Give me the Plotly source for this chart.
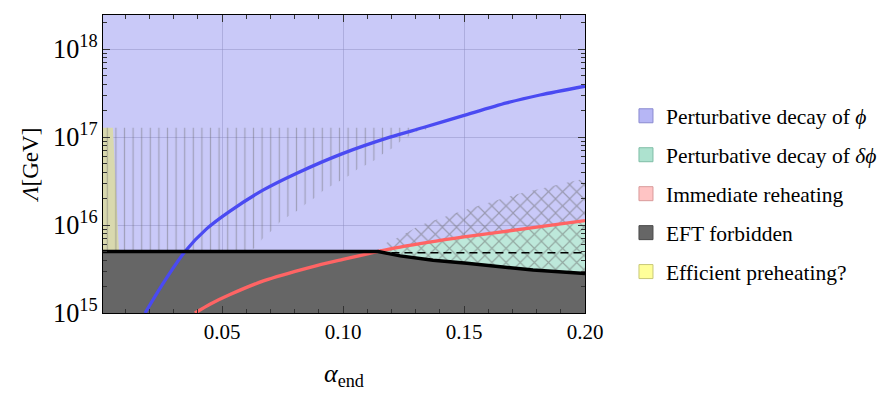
import plotly.graph_objects as go

# alpha_end values and log10(Lambda / GeV)
blue_alpha = [0.0182, 0.0257, 0.0347, 0.0437, 0.0533, 0.0671, 0.0809, 0.0995, 0.1194, 0.1332, 0.1497, 0.1676, 0.1814, 0.2]
blue_log = [15.0, 15.34, 15.70, 15.96, 16.16, 16.40, 16.59, 16.81, 17.00, 17.11, 17.245, 17.39, 17.48, 17.58]

red_alpha = [0.0388, 0.045, 0.0533, 0.0671, 0.0864, 0.10, 0.1145, 0.1236, 0.15, 0.177, 0.2]
red_log = [15.0, 15.10, 15.21, 15.365, 15.52, 15.61, 15.70, 15.75, 15.865, 15.965, 16.05]

eft_alpha = [0.0008, 0.1145, 0.1236, 0.1372, 0.1512, 0.1649, 0.1785, 0.2]
eft_log = [15.70, 15.70, 15.65, 15.60, 15.565, 15.53, 15.49, 15.45]

hatch_v_alpha = [0.0008, 0.060, 0.0636, 0.0669, 0.0707, 0.0744, 0.0814, 0.0851, 0.0888, 0.0921,
                 0.0992, 0.1029, 0.1062, 0.1099, 0.1132, 0.1169, 0.1207, 0.124, 0.1277, 0.131, 0.138]
hatch_v_log = [15.70, 15.70, 15.74, 15.85, 15.94, 16.05, 16.17, 16.25, 16.32, 16.40,
               16.51, 16.57, 16.64, 16.69, 16.74, 16.82, 16.88, 16.96, 17.02, 17.07, 17.106]
hatch_v_top = 17.106

hatch_x_alpha = [0.1145, 0.118, 0.1236, 0.132, 0.15, 0.173, 0.2]
hatch_x_log = [15.70, 15.80, 15.87, 16.00, 16.17, 16.36, 16.53]

yellow_alpha = [0.0008, 0.0008, 0.0049, 0.0074]
yellow_log = [15.70, 17.106, 17.106, 15.70]

dash_alpha = [0.12, 0.2]
dash_log = [15.685, 15.685]

x_range = [0.0008, 0.2]
y_range = [15.0, 18.39]
x_ticks = [0.05, 0.10, 0.15, 0.20]

legend_names = ["Perturbative decay of <i>ϕ</i>", "Perturbative decay of <i>δϕ</i>",
                "Immediate reheating", "EFT forbidden", "Efficient preheating?"]
legend_colors = ["#b6b6f5", "#ade2cf", "#ffc4c4", "#666666", "#ffff99"]
legend_borders = ["#8a8ad0", "#7fbda6", "#d99a9a", "#4a4a4a", "#c8c878"]

FONT = "Liberation Serif"


def lam(vals):
    return [10 ** v for v in vals]


fig = go.Figure()

# EFT forbidden region (below the black boundary)
gray_x = eft_alpha + [eft_alpha[-1], eft_alpha[0]]
gray_y = eft_log + [y_range[0], y_range[0]]
fig.add_trace(go.Scatter(x=gray_x, y=lam(gray_y), fill="toself", mode="none",
                         fillcolor="#666666", showlegend=False, hoverinfo="skip"))

# perturbative decay of delta phi: between boundary and red curve
k = red_alpha.index(0.1145)
g_x = red_alpha[k:] + eft_alpha[1:][::-1]
g_y = red_log[k:] + eft_log[1:][::-1]
fig.add_trace(go.Scatter(x=g_x, y=lam(g_y), fill="toself", mode="none",
                         fillcolor="#bde8da", showlegend=False, hoverinfo="skip"))

# efficient preheating
fig.add_trace(go.Scatter(x=yellow_alpha, y=lam(yellow_log), fill="toself", mode="none",
                         fillcolor="#d9d9ae", showlegend=False, hoverinfo="skip"))

# vertical hatching
vx = hatch_v_alpha + [hatch_v_alpha[-1], hatch_v_alpha[0]]
vy = hatch_v_log + [hatch_v_top, hatch_v_top]
fig.add_trace(go.Scatter(x=vx, y=lam(vy), fill="toself", mode="none",
                         fillcolor="rgba(0,0,0,0)",
                         fillpattern=dict(shape="|", size=8.6, solidity=0.15,
                                          fgcolor="rgba(100,100,100,0.8)", bgcolor="rgba(0,0,0,0)"),
                         showlegend=False, hoverinfo="skip"))

# cross hatching
cx = hatch_x_alpha + eft_alpha[1:][::-1]
cy = hatch_x_log + eft_log[1:][::-1]
fig.add_trace(go.Scatter(x=cx, y=lam(cy), fill="toself", mode="none",
                         fillcolor="rgba(0,0,0,0)",
                         fillpattern=dict(shape="x", size=10, solidity=0.22,
                                          fgcolor="rgba(105,105,105,1)", bgcolor="rgba(0,0,0,0)"),
                         showlegend=False, hoverinfo="skip"))

# curves
fig.add_trace(go.Scatter(x=red_alpha, y=lam(red_log), mode="lines",
                         line=dict(color="#ff6464", width=3.3, shape="spline", smoothing=0.8),
                         showlegend=False, hoverinfo="skip"))
fig.add_trace(go.Scatter(x=blue_alpha, y=lam(blue_log), mode="lines",
                         line=dict(color="#4a4af2", width=3.3, shape="spline", smoothing=0.8),
                         showlegend=False, hoverinfo="skip"))
fig.add_trace(go.Scatter(x=dash_alpha, y=lam(dash_log), mode="lines",
                         line=dict(color="black", width=1.5, dash="8px,5px"),
                         showlegend=False, hoverinfo="skip"))
fig.add_trace(go.Scatter(x=eft_alpha, y=lam(eft_log), mode="lines",
                         line=dict(color="black", width=3.5),
                         showlegend=False, hoverinfo="skip"))

# legend entries
for i, (name, c, b) in enumerate(zip(legend_names, legend_colors, legend_borders)):
    fig.add_trace(go.Scatter(x=[None], y=[None], mode="markers", name=name, legendgroup=str(i),
                             marker=dict(symbol="square", size=14, color=c, line=dict(color=b, width=1))))

# the page body adds an 8px margin, so the figure is 8px smaller than the window
fig.update_layout(
    width=884, height=387,
    margin=dict(l=95, r=307, t=7, b=82),
    plot_bgcolor="#c9c9f8",
    paper_bgcolor="white",
    font=dict(family=FONT, size=21, color="black"),
    legend=dict(x=1.085, y=0.40, xanchor="left", yanchor="middle", tracegroupgap=8,
                font=dict(family=FONT, size=21.5), bgcolor="rgba(0,0,0,0)"),
)

fig.update_xaxes(range=x_range, tickvals=x_ticks, tickformat=".2f", ticks="inside", ticklen=7,
                 tickcolor="#333", showline=True, linecolor="black", linewidth=1.2, mirror="ticks",
                 showgrid=True, gridcolor="rgba(140,140,190,0.45)", gridwidth=1, zeroline=False,
                 minor=dict(dtick=0.01, tick0=0, ticks="inside", ticklen=4, tickcolor="#333", showgrid=False),
                 title=dict(text="<i>α</i><sub>end</sub>", font=dict(size=26), standoff=20))
fig.update_yaxes(type="log", range=y_range, dtick=1, exponentformat="power", ticks="inside", ticklen=7,
                 tickcolor="#333", showline=True, linecolor="black", linewidth=1.2, mirror="ticks",
                 showgrid=True, gridcolor="rgba(140,140,190,0.45)", gridwidth=1, zeroline=False,
                 minor=dict(dtick="D1", ticks="inside", ticklen=4, tickcolor="#333", showgrid=False),
                 title=dict(text="<i>Λ</i>[GeV]", font=dict(size=23), standoff=8))

fig.write_html("out.html")
